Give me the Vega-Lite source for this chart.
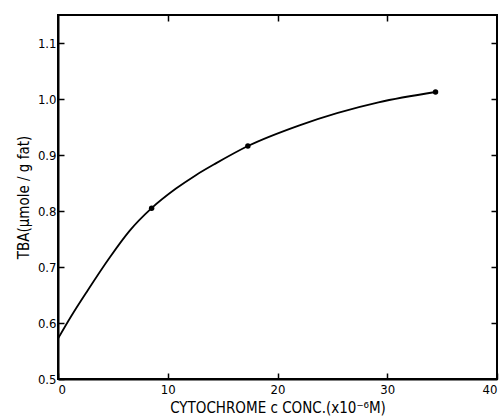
{
  "$schema": "https://vega.github.io/schema/vega-lite/v6.json",
  "width": 439,
  "height": 364,
  "autosize": "none",
  "padding": {"left": 58, "top": 15, "right": 5, "bottom": 41},
  "background": "white",
  "config": {
    "view": {"stroke": "black", "strokeWidth": 2},
    "font": "DejaVu Sans Condensed, Liberation Sans Narrow, DejaVu Sans",
    "axis": {
      "domainColor": "black",
      "domainWidth": 2,
      "tickColor": "black",
      "tickWidth": 1.5,
      "tickSize": -6,
      "grid": false,
      "labelColor": "black",
      "labelFontSize": 13,
      "titleColor": "black",
      "titleFontWeight": "normal",
      "titleFontSize": 15
    }
  },
  "datasets": {
    "curve": [
      {"conc": 0, "tba": 0.572},
      {"conc": 1.2, "tba": 0.612},
      {"conc": 2.7, "tba": 0.658},
      {"conc": 4.68, "tba": 0.716},
      {"conc": 6.5, "tba": 0.764},
      {"conc": 8.53, "tba": 0.805},
      {"conc": 10.75, "tba": 0.84},
      {"conc": 12.56, "tba": 0.864},
      {"conc": 14.38, "tba": 0.885},
      {"conc": 17.3, "tba": 0.916},
      {"conc": 22, "tba": 0.953},
      {"conc": 29.2, "tba": 0.994},
      {"conc": 34.4, "tba": 1.0125}
    ],
    "points": [
      {"conc": 8.53, "tba": 0.805},
      {"conc": 17.3, "tba": 0.916},
      {"conc": 34.4, "tba": 1.0125}
    ]
  },
  "layer": [
    {
      "data": {"name": "curve"},
      "mark": {"type": "line", "interpolate": "monotone", "color": "black", "strokeWidth": 1.8},
      "encoding": {
        "x": {
          "field": "conc", "type": "quantitative",
          "scale": {"domain": [0, 40], "nice": false},
          "axis": {"values": [0, 10, 20, 30, 40], "title": "CYTOCHROME c CONC.(x10⁻⁶M)", "labelPadding": 10, "titlePadding": 4}
        },
        "y": {
          "field": "tba", "type": "quantitative",
          "scale": {"domain": [0.5, 1.15], "nice": false, "zero": false},
          "axis": {"values": [0.5, 0.6, 0.7, 0.8, 0.9, 1.0, 1.1], "format": ".1f", "title": "TBA(μmole / g fat)", "labelPadding": 8, "titlePadding": 6}
        }
      }
    },
    {
      "data": {"name": "points"},
      "mark": {"type": "point", "filled": true, "color": "black", "size": 30, "opacity": 1},
      "encoding": {
        "x": {"field": "conc", "type": "quantitative", "axis": {"orient": "top", "values": [10, 20, 30], "labels": false, "title": null, "domain": false}},
        "y": {"field": "tba", "type": "quantitative", "axis": {"orient": "right", "values": [0.6, 0.7, 0.8, 0.9, 1.0, 1.1], "labels": false, "title": null, "domain": false}}
      }
    }
  ],
  "resolve": {"axis": {"x": "independent", "y": "independent"}}
}
